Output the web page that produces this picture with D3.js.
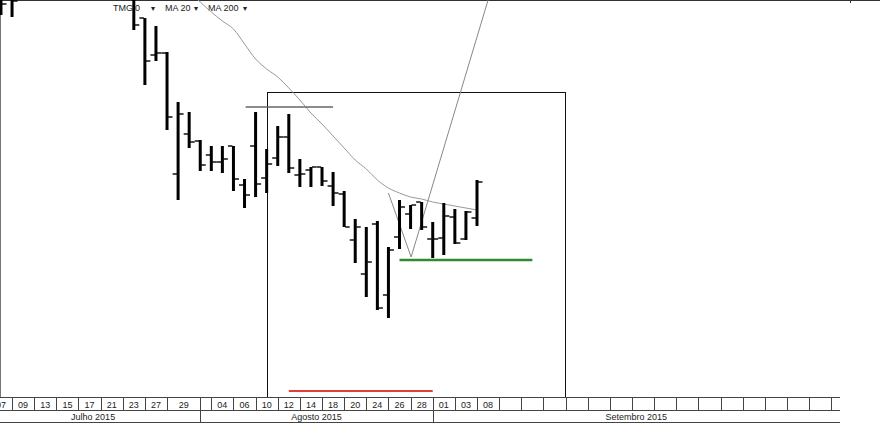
<!DOCTYPE html>
<html><head><meta charset="utf-8">
<script src="https://cdn.jsdelivr.net/npm/d3@7/dist/d3.min.js"></script>
<style>body{margin:0;background:#fff}svg{display:block;font-family:"Liberation Sans",Arial,sans-serif}</style>
</head><body><svg id="c" width="880" height="423"></svg>
<script>
// Trading-day slots (index = slot position on the axis)
const days = ["07-07","07-08","07-09","07-10","07-13","07-14","07-15","07-16","07-17","07-20","07-21","07-22","07-23","07-24","07-27","07-28","07-29","07-30","07-31","08-03","08-04","08-05","08-06","08-07","08-10","08-11","08-12","08-13","08-14","08-17","08-18","08-19","08-20","08-21","08-24","08-25","08-26","08-27","08-28","08-31","09-01","09-02","09-03","09-04","09-08"];

// OHLC bars (visible part)
const barDates = ["07-08","07-09","07-24","07-27","07-28","07-29","07-30","07-31","08-03","08-04","08-05","08-06","08-07","08-10","08-11","08-12","08-13","08-14","08-17","08-18","08-19","08-20","08-21","08-24","08-25","08-26","08-27","08-28","08-31","09-01","09-02","09-03","09-04","09-08"];
const open  = [30.25,30.15,30.15,29.10,27.25,27.35,21.30,23.30,22.95,22.25,21.90,22.70,20.75,22.70,21.10,22.10,23.15,21.25,21.50,21.65,20.70,20.30,18.00,16.30,18.80,15.25,18.15,19.30,19.90,18.05,18.10,19.15,18.05,19.10];
const high  = [30.50,30.50,30.40,29.10,28.70,27.40,24.90,24.40,23.00,22.70,22.70,22.70,21.05,24.40,22.55,23.70,24.30,22.05,21.65,21.65,21.40,20.45,19.05,18.65,18.95,17.65,20.00,19.75,19.90,18.90,19.85,19.55,19.45,21.00];
const low   = [29.25,29.15,28.50,25.75,26.95,23.50,20.00,22.60,21.45,21.45,21.35,20.45,19.60,20.15,20.35,21.70,21.35,20.65,20.65,20.70,19.70,18.65,16.85,15.15,14.50,14.10,17.55,18.55,18.50,17.10,17.25,17.80,18.00,18.70];
const close = [29.80,29.95,28.75,26.95,27.35,24.15,24.30,22.90,21.75,21.90,22.05,21.05,20.25,20.80,21.80,23.15,21.60,21.30,21.65,20.95,20.35,18.65,18.65,16.90,14.60,17.50,19.65,19.75,18.65,18.05,19.20,17.85,19.40,20.90];

// MA 20
const maDates = ["07-31","08-03","08-04","08-05","08-06","08-07","08-10","08-11","08-12","08-13","08-14","08-17","08-18","08-19","08-20","08-21","08-24","08-25","08-26","08-27","08-28","08-31","09-01","09-02","09-03","09-04","09-08"];
const ma20 = [30.40,29.90,29.40,28.95,28.55,27.80,27.05,26.55,26.15,25.60,25.00,24.35,23.80,23.20,22.60,22.00,21.55,21.00,20.60,20.35,20.15,20.05,19.90,19.80,19.70,19.60,19.50];

// Axis cells
const tickSlots  = [0,2,4,6,8,10,12,14,16,19,20,22,24,26,28,30,32,34,36,38,40,42,44,46,48,50,52,54,56,58,60,62,64,66,68,70,72,74,76];
const tickLabels = ["07","09","13","15","17","21","23","27","29","","04","06","10","12","14","18","20","24","26","28","01","03","08","","","","","","","","","","","","","","","",""];
const monthNames = ["Julho 2015","Agosto 2015","Setembro 2015"];
const monthStartSlots = [-5,19,40];

// Header items
const headerTexts = ["TMG","0","▾","MA 20","▾","MA 200","▾"];

// Drawing annotations (slot, price)
const resistLine = [[23.1,24.65],[31.0,24.65]];
const boxCorners = [[25,25.40],[52,10.15]];
const greenLine = [[37,17.00],[49,17.00]];
const redLine = [[27,10.45],[40,10.45]];
const vLine = [[36,20.35],[38.05,17.15],[45,30.0]];

const svg = d3.select("#c");
const W = 880, plotBottom = 397, axisEnd = 840;
const x = d3.scaleLinear().domain([0,44]).range([-10.1,477]);
const y = d3.scaleLinear().domain([10,30]).range([400,0]);
const slot = d => days.indexOf(d);

// header text
const hx = [113,135,151,165,194,208,243];
const hdr = svg.append("g").attr("font-size",9).attr("fill","#222");
headerTexts.forEach((t,i)=>hdr.append("text").attr("x",hx[i]).attr("y",11).attr("font-size",t==="▾"?8:9).text(t));

// borders
svg.append("line").attr("x1",0).attr("x2",W).attr("y1",0.5).attr("y2",0.5).attr("stroke","#333");
svg.append("line").attr("x1",850.5).attr("x2",850.5).attr("y1",0).attr("y2",3).attr("stroke","#333");
svg.append("line").attr("x1",0.5).attr("x2",0.5).attr("y1",0).attr("y2",plotBottom).attr("stroke","#777");

svg.append("defs").append("clipPath").attr("id","pc").append("rect").attr("x",0).attr("y",0).attr("width",W).attr("height",plotBottom);
const g = svg.append("g").attr("clip-path","url(#pc)");

// box
g.append("rect").attr("x",Math.round(x(boxCorners[0][0]))+0.5).attr("y",Math.round(y(boxCorners[0][1]))+0.5)
 .attr("width",Math.round(x(boxCorners[1][0])-x(boxCorners[0][0]))-1).attr("height",plotBottom-Math.round(y(boxCorners[0][1])))
 .attr("fill","none").attr("stroke","#111").attr("stroke-width",1);

const line = d3.line().x(d=>x(d[0])).y(d=>y(d[1]));
// MA 20
g.append("path").datum(maDates.map((d,i)=>[slot(d),ma20[i]])).attr("d",d3.line().x(d=>x(d[0])).y(d=>y(d[1])).curve(d3.curveMonotoneX))
 .attr("fill","none").attr("stroke","#999").attr("stroke-width",1);
// resistance
g.append("path").datum(resistLine).attr("d",line).attr("fill","none").attr("stroke","#666").attr("stroke-width",1.3);
// V line
g.append("path").datum(vLine).attr("d",line).attr("fill","none").attr("stroke","#888").attr("stroke-width",1);
// green
g.append("path").datum(greenLine).attr("d",line).attr("fill","none").attr("stroke","#2e8b2e").attr("stroke-width",2.5);
// red
g.append("path").datum(redLine).attr("d",line).attr("fill","none").attr("stroke","#e0403a").attr("stroke-width",2);

// bars
const bars = barDates.map((d,i)=>({k:slot(d),o:open[i],h:high[i],l:low[i],c:close[i]}));
const bg = g.append("g");
bars.forEach(b=>{
  const cx = x(b.k);
  bg.append("rect").attr("x",cx-1.5).attr("y",y(b.h)).attr("width",3).attr("height",y(b.l)-y(b.h)).attr("fill","#000");
  bg.append("line").attr("x1",cx-5.5).attr("x2",cx-1).attr("y1",y(b.o)).attr("y2",y(b.o)).attr("stroke","#000").attr("stroke-width",1.4);
  bg.append("line").attr("x1",cx+1).attr("x2",cx+5.5).attr("y1",y(b.c)).attr("y2",y(b.c)).attr("stroke","#000").attr("stroke-width",1.4);
});

// axis
const ax = svg.append("g").attr("stroke","#444").attr("stroke-width",1);
[397.5,410.5,422.5].forEach(yy=>ax.append("line").attr("x1",0).attr("x2",axisEnd).attr("y1",yy).attr("y2",yy));
tickSlots.forEach(s=>{
  const xx = Math.round(x(s))+0.5;
  if (xx<axisEnd) ax.append("line").attr("x1",xx).attr("x2",xx).attr("y1",397).attr("y2",410.5);
});
monthStartSlots.slice(1).forEach(s=>{
  const xx = Math.round(x(s))+0.5;
  ax.append("line").attr("x1",xx).attr("x2",xx).attr("y1",397).attr("y2",423);
});
const lab = svg.append("g").attr("font-size",9).attr("fill","#222").attr("text-anchor","middle");
tickSlots.forEach((s,i)=>{
  if (!tickLabels[i]) return;
  const nx = i+1<tickSlots.length ? tickSlots[i+1] : s+2;
  lab.append("text").attr("x",(x(s)+x(nx))/2).attr("y",407.5).text(tickLabels[i]);
});
monthNames.forEach((m,i)=>{
  const a = Math.max(-14, x(monthStartSlots[i]));
  const b = i+1<monthNames.length ? x(monthStartSlots[i+1]) : axisEnd;
  lab.append("text").attr("x",(a+b)/2).attr("y",420).text(m);
});
</script></body></html>
